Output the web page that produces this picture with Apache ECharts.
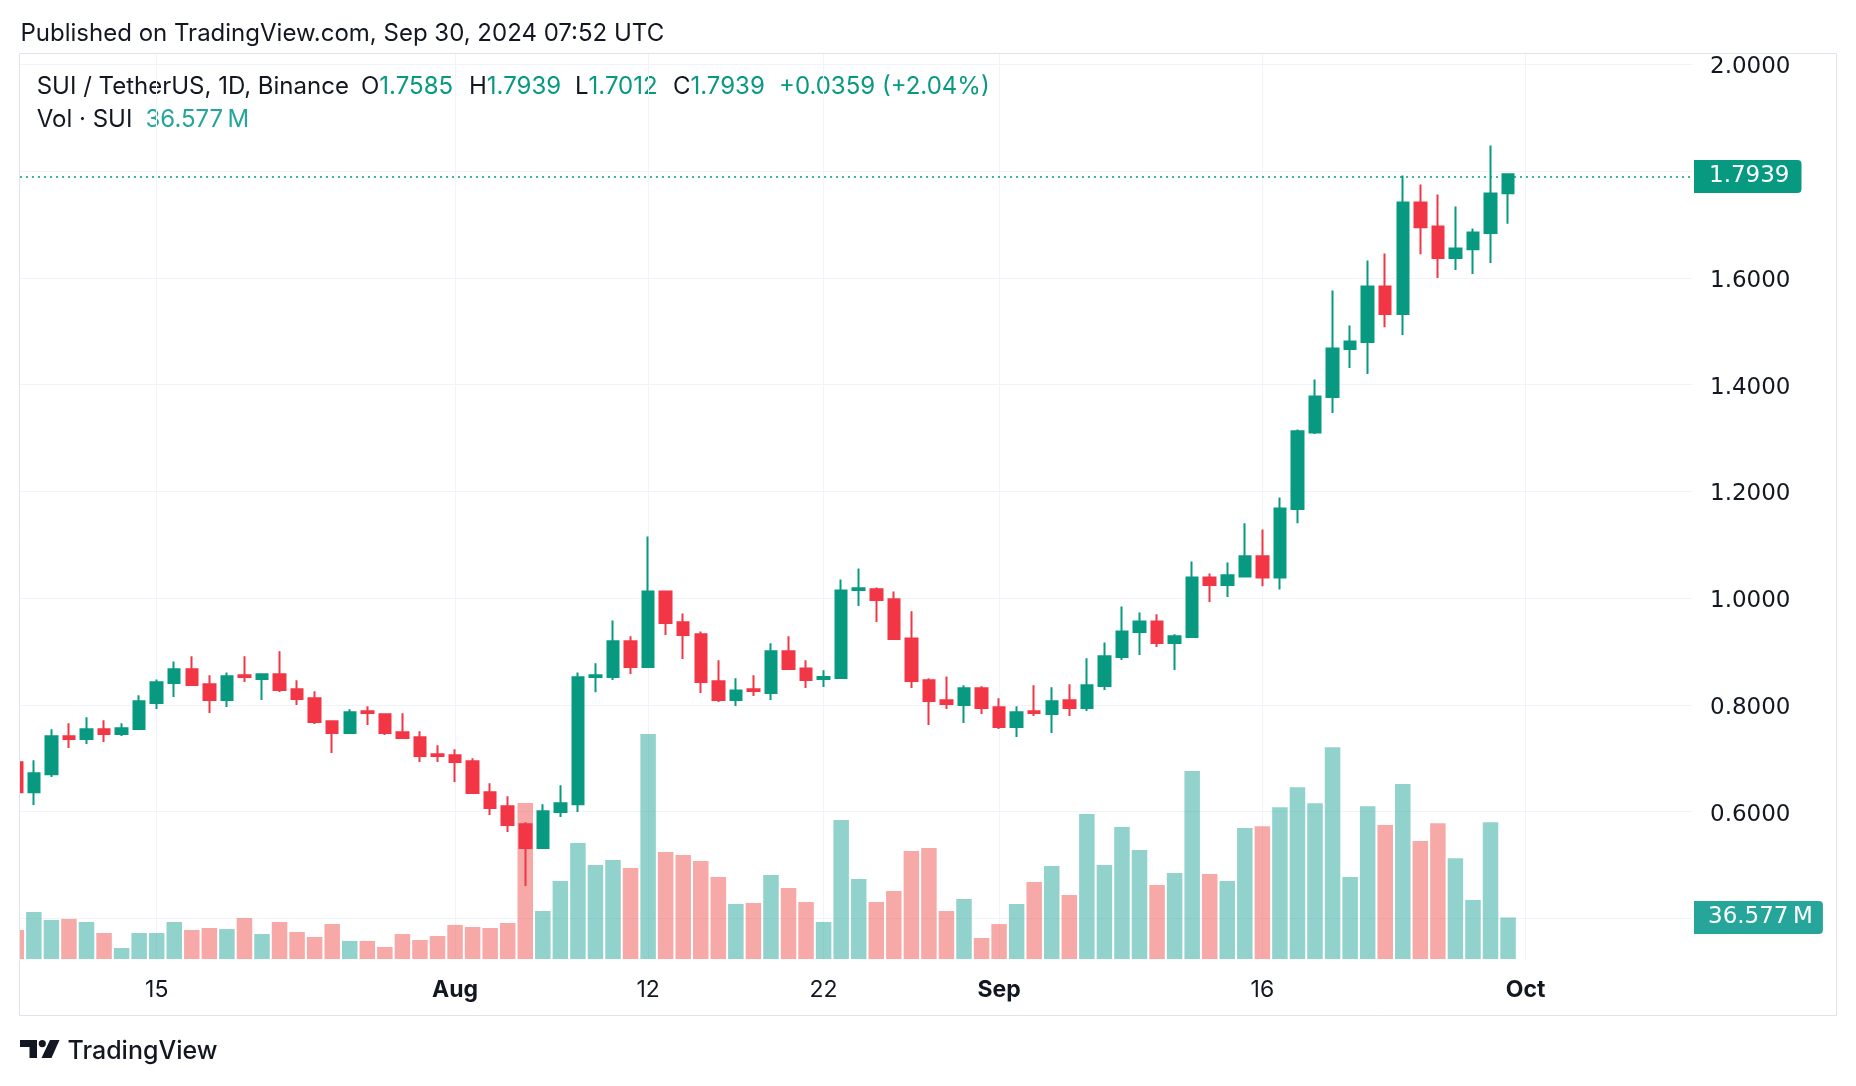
<!DOCTYPE html>
<html><head><meta charset="utf-8">
<script src="https://cdn.jsdelivr.net/npm/echarts@6/dist/echarts.min.js"></script>
<style>html,body{margin:0;padding:0;background:#fff}#c{width:1856px;height:1086px}</style>
</head><body><div id="c"></div>
<script>
// ---- categories: daily dates (Jul 7 .. Oct 10); data covers Jul 7 .. Sep 30
const monthSpans = [['Jul', 7, 31], ['Aug', 1, 31], ['Sep', 1, 30], ['Oct', 1, 10]];
const dates = [];
monthSpans.forEach(function (m) { for (let d = m[1]; d <= m[2]; d++) dates.push(m[0] + ' ' + d); });

const opens = [0.6925,0.6363,0.6700,0.7412,0.7362,0.7543,0.7456,0.7549,0.8036,0.8411,
  0.8667,0.8386,0.8092,0.8554,0.8486,0.8573,0.8292,0.8124,0.7693,0.7474,
  0.7880,0.7824,0.7487,0.7393,0.7075,0.7056,0.6944,0.6363,0.6101,0.5764,
  0.5321,0.5995,0.6138,0.8523,0.8523,0.9191,0.8710,1.0127,0.9547,0.9322,
  0.8442,0.8092,0.8292,0.8223,0.9004,0.8685,0.8486,0.8504,1.0152,1.0165,
  0.9978,0.9247,0.8461,0.8086,0.7999,0.8311,0.7955,0.7587,0.7880,0.7830,
  0.8086,0.7943,0.8355,0.8898,0.9366,0.9565,0.9160,0.9272,1.0389,1.0245,
  1.0408,1.0783,1.0388,1.1668,1.3105,1.3767,1.4665,1.4797,1.5839,1.5321,
  1.7412,1.6963,1.6370,1.6538,1.6838,1.7585];
const highs = [0.7050,0.6963,0.7543,0.7655,0.7768,0.7712,0.7655,0.8180,0.8479,0.8816,
  0.8910,0.8554,0.8610,0.8910,0.8592,0.9004,0.8461,0.8255,0.7712,0.7918,
  0.7974,0.7830,0.7843,0.7506,0.7243,0.7168,0.7000,0.6532,0.6288,0.5801,
  0.6138,0.6494,0.8610,0.8779,0.9584,0.9285,1.1157,1.0146,0.9715,0.9378,
  0.8835,0.8498,0.8554,0.9154,0.9285,0.8835,0.8648,1.0352,1.0558,1.0202,
  1.0127,0.9753,0.8498,0.8535,0.8367,0.8348,0.8124,0.7974,0.8367,0.8330,
  0.8386,0.8873,0.9172,0.9846,0.9734,0.9697,0.9322,1.0689,1.0464,1.0667,
  1.1402,1.1287,1.1886,1.3159,1.4097,1.5764,1.5108,1.6326,1.6457,1.7918,
  1.7749,1.7562,1.7337,1.6925,1.8479,1.7939];
const lows = [0.6300,0.6126,0.6650,0.7194,0.7268,0.7306,0.7418,0.7540,0.7924,0.8149,
  0.8370,0.7849,0.7961,0.8430,0.8092,0.8242,0.7999,0.7643,0.7100,0.7456,
  0.7624,0.7437,0.7362,0.6931,0.6931,0.6557,0.6332,0.5939,0.5620,0.4609,
  0.5321,0.5901,0.5995,0.8236,0.8467,0.8579,0.8710,0.9310,0.8860,0.8223,
  0.8055,0.7980,0.8167,0.8092,0.8654,0.8317,0.8336,0.8504,0.9853,0.9553,
  0.9235,0.8317,0.7624,0.7924,0.7661,0.7830,0.7549,0.7399,0.7793,0.7474,
  0.7793,0.7886,0.8280,0.8842,0.8935,0.9085,0.8654,0.9272,0.9927,1.0020,
  1.0388,1.0224,1.0163,1.1402,1.3073,1.3467,1.4310,1.4197,1.5077,1.4928,
  1.6444,1.5995,1.6145,1.6070,1.6276,1.7012];
const closes = [0.6363,0.6719,0.7412,0.7362,0.7543,0.7456,0.7562,0.8067,0.8423,0.8667,
  0.8373,0.8092,0.8536,0.8523,0.8573,0.8280,0.8111,0.7680,0.7474,0.7861,
  0.7849,0.7474,0.7381,0.7043,0.7044,0.6931,0.6351,0.6070,0.5751,0.5321,
  0.6007,0.6157,0.8517,0.8554,0.9191,0.8710,1.0127,0.9534,0.9310,0.8430,
  0.8092,0.8273,0.8261,0.9004,0.8673,0.8467,0.8523,1.0146,1.0184,0.9965,
  0.9235,0.8448,0.8074,0.8018,0.8311,0.7943,0.7587,0.7861,0.7849,0.8067,
  0.7943,0.8367,0.8910,0.9378,0.9565,0.9160,0.9285,1.0389,1.0246,1.0429,
  1.0783,1.0388,1.1682,1.3125,1.3779,1.4678,1.4809,1.5839,1.5321,1.7412,
  1.6950,1.6370,1.6551,1.6850,1.7580,1.7939];
// volume in millions of SUI
const volumes = [25.6,41.4,34.4,35.3,32.6,22.9,9.7,22.9,22.9,32.6,
  25.6,27.3,26.4,36.1,22.0,32.6,23.8,19.4,30.8,15.9,
  15.9,10.6,22.0,16.7,20.3,30.0,28.2,27.3,31.7,137.5,
  42.3,68.7,102.2,82.9,87.3,80.2,198.3,94.3,91.7,86.4,
  72.3,48.5,49.4,74.0,62.6,50.2,32.6,122.5,70.5,50.2,
  59.9,95.2,97.8,42.3,52.9,18.5,30.8,48.5,67.9,82.0,
  56.4,127.8,82.9,116.3,96.1,65.2,75.8,165.7,74.9,68.7,
  115.5,117.1,133.7,151.3,137.2,186.6,72.2,134.7,118.0,154.2,
  103.9,119.6,88.8,52.0,120.6,36.577];

const tickDates = ['Jul 15', 'Aug 1', 'Aug 12', 'Aug 22', 'Sep 1', 'Sep 16', 'Oct 1'];
const tickLabels = ['15', 'Aug', '12', '22', 'Sep', '16', 'Oct'];
const monthLabels = ['Aug', 'Sep', 'Oct'];
const priceTicks = [0.4, 0.6, 0.8, 1.0, 1.2, 1.4, 1.6, 1.8, 2.0];

const lastPrice = 1.7939;
const lastVolume = 36.577;
const header = 'Published on TradingView.com, Sep 30, 2024 07:52 UTC';
const symbolTitle = 'SUI / TetherUS, 1D, Binance';
const ohlcLegend = [['O', '1.7585'], ['H', '1.7939'], ['L', '1.7012'], ['C', '1.7939']];
const changeText = '+0.0359 (+2.04%)';
const volTitle = 'Vol \u00b7 SUI';
const volValue = '36.577\u2009M';

// ---- build
const UP = '#089981', DOWN = '#F23645';
const VUP = 'rgba(38,166,154,0.5)', VDOWN = 'rgba(239,83,80,0.5)';
const FONT = 'Inter, "Noto Sans", sans-serif';
const AXFONT = '"DejaVu Sans", Inter, sans-serif';
const TXT = '#131722';
const GRID = '#F0F3FA';

const tickIdx = tickDates.map(function (d) { return dates.indexOf(d); });
const candleData = opens.map(function (o, i) { return [i, o, closes[i], lows[i], highs[i]]; });
const volData = volumes.map(function (v, i) {
  return { value: [i, v], itemStyle: { color: closes[i] >= opens[i] ? VUP : VDOWN } };
});

const xMin = 0.211, xMax = 95.48;

const chart = echarts.init(document.getElementById('c'));
const legendX = [361, 469, 575, 673];
const LY = 87, VY = 120;
const graphics = [
  // white margin left of the pane (hides the cut-off part of the first day)
  { type: 'rect', silent: true, z: 50, shape: { x: 0, y: 54, width: 19, height: 906 }, style: { fill: '#ffffff' } },
  { type: 'rect', silent: true, z: 51, shape: { x: 19.5, y: 53.5, width: 1817, height: 962 },
    style: { fill: 'none', stroke: '#E0E3EB', lineWidth: 1 } },
  { type: 'text', x: 20.5, y: 34, style: { text: header, fill: TXT, font: '24px ' + FONT, verticalAlign: 'middle' } },
  { type: 'text', x: 36.7, y: LY, style: { text: symbolTitle, fill: TXT, font: '24px ' + FONT, verticalAlign: 'middle' } },
  { type: 'text', x: 779, y: LY, style: { text: changeText, fill: UP, font: '24px ' + FONT, verticalAlign: 'middle' } },
  { type: 'text', x: 36.7, y: VY, style: { text: volTitle, fill: TXT, font: '24px ' + FONT, verticalAlign: 'middle' } },
  { type: 'text', x: 145.5, y: VY, style: { text: volValue, fill: '#26A69A', font: '24px ' + FONT, verticalAlign: 'middle' } },
  // TradingView logo
  { type: 'rect', shape: { x: 20, y: 1040, width: 17, height: 7 }, style: { fill: TXT } },
  { type: 'rect', shape: { x: 29.5, y: 1040, width: 7.5, height: 18 }, style: { fill: TXT } },
  { type: 'circle', shape: { cx: 42.3, cy: 1043.6, r: 3.6 }, style: { fill: TXT } },
  { type: 'polygon', shape: { points: [[50, 1040], [59.5, 1040], [51.5, 1058], [41.5, 1058]] }, style: { fill: TXT } },
  { type: 'text', x: 67.5, y: 1051, style: { text: 'TradingView', fill: TXT, font: '500 25px ' + FONT, verticalAlign: 'middle' } }
];
ohlcLegend.forEach(function (p, k) {
  graphics.push({ type: 'text', x: legendX[k], y: LY, style: {
    rich: { k: { fill: TXT, font: '24px ' + FONT }, v: { fill: UP, font: '24px ' + FONT } },
    text: '{k|' + p[0] + '}{v|' + p[1] + '}', verticalAlign: 'middle' } });
});

chart.setOption({
  animation: false,
  backgroundColor: '#ffffff',
  textStyle: { fontFamily: FONT },
  grid: [
    { left: 20, right: 164, top: 64.3, bottom: 1086 - 918.5 },
    { left: 20, right: 164, top: 53.5, bottom: 127 }
  ],
  xAxis: [
    { type: 'value', gridIndex: 0, min: xMin, max: xMax, show: true,
      axisLine: { show: false }, axisTick: { show: false }, axisLabel: { show: false }, splitLine: { show: false } },
    { type: 'value', gridIndex: 1, min: xMin, max: xMax,
      axisLine: { show: false },
      axisTick: { show: false, customValues: tickIdx },
      splitLine: { show: true, lineStyle: { color: GRID, width: 1 } },
      axisLabel: {
        customValues: tickIdx, margin: 20, fontSize: 23, color: TXT, fontFamily: FONT,
        formatter: function (v) {
          const k = tickIdx.indexOf(Math.round(v));
          if (k < 0) return '';
          const t = tickLabels[k];
          return monthLabels.indexOf(t) >= 0 ? '{b|' + t + '}' : '{n|' + t + '}';
        },
        rich: { b: { fontWeight: 700, fontSize: 23, color: TXT, fontFamily: FONT },
                n: { fontWeight: 400, fontSize: 23, color: TXT, fontFamily: FONT } }
      } }
  ],
  yAxis: [
    { type: 'value', gridIndex: 0, position: 'right', min: priceTicks[0], max: priceTicks[priceTicks.length - 1], interval: 0.2,
      axisLine: { show: false }, axisTick: { show: false },
      splitLine: { show: true, lineStyle: { color: GRID, width: 1 } },
      axisLabel: { margin: 18, fontSize: 23, color: TXT, fontFamily: AXFONT,
        formatter: function (v) { return v < 0.5 ? '' : '{p|' + v.toFixed(4) + '}'; },
        rich: { p: { fontSize: 23, color: TXT, fontFamily: AXFONT, padding: [6, 0, 0, 0] } } } },
    { type: 'value', gridIndex: 1, min: 0, max: 798, show: false, splitLine: { show: false } }
  ],
  series: [
    { type: 'bar', name: 'Vol', xAxisIndex: 1, yAxisIndex: 1, data: volData, barWidth: 15.5, clip: true, z: 1,
      markLine: { silent: true, symbol: ['none', 'none'], animation: false,
        lineStyle: { color: 'rgba(0,0,0,0)', width: 1, type: 'solid' },
        label: { show: true, position: 'end', distance: 2, formatter: volValue, color: '#ffffff', fontSize: 23, fontFamily: AXFONT,
          backgroundColor: '#26A69A', padding: [6, 10, 4, 14], borderRadius: [0, 4, 4, 0] },
        data: [{ yAxis: lastVolume }] } },
    { type: 'candlestick', name: 'SUI', xAxisIndex: 0, yAxisIndex: 0, data: candleData,
      encode: { x: 0, y: [1, 2, 3, 4] }, barWidth: 12, clip: true, z: 3,
      itemStyle: { color: UP, color0: DOWN, borderColor: UP, borderColor0: DOWN, borderWidth: 2 },
      markLine: { silent: true, symbol: ['none', 'none'], animation: false,
        lineStyle: { color: UP, type: [2, 4], width: 1.5 },
        label: { show: true, position: 'end', distance: 2, formatter: lastPrice.toFixed(4), color: '#ffffff', fontSize: 23, fontFamily: AXFONT,
          backgroundColor: UP, padding: [6, 12, 4, 15], borderRadius: [0, 4, 4, 0] },
        data: [{ yAxis: lastPrice }] } }
  ],
  graphic: graphics
});
</script></body></html>
